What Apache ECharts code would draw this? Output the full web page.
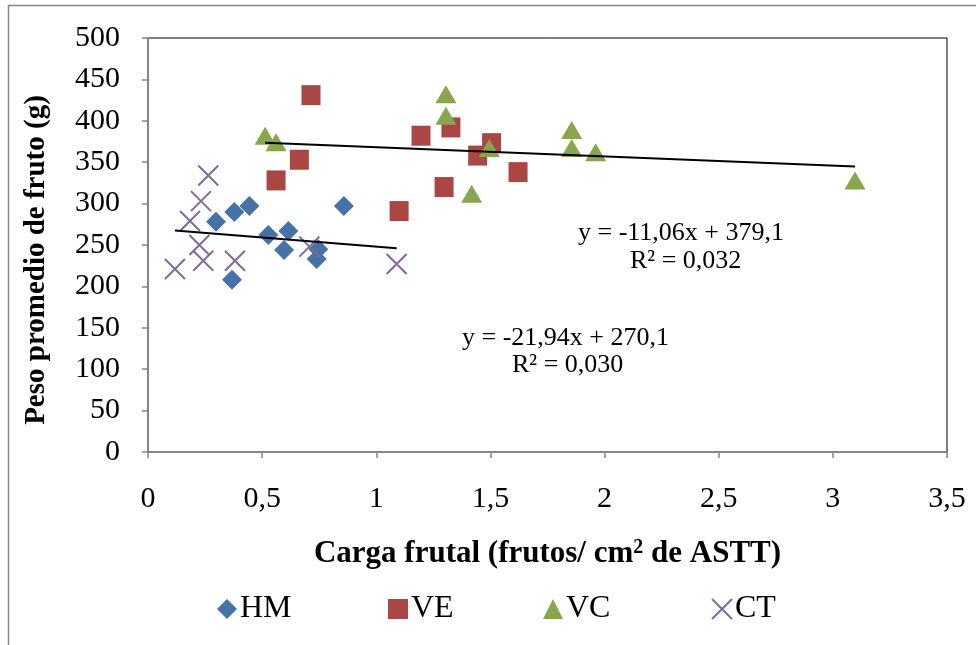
<!DOCTYPE html>
<html>
<head>
<meta charset="utf-8">
<script src="https://cdn.jsdelivr.net/npm/echarts@6/dist/echarts.min.js"></script>
<style>
  html, body { margin: 0; padding: 0; background: #ffffff; }
  #chart { width: 976px; height: 645px; }
</style>
</head>
<body>
<div id="chart"></div>
<script>
// Fruit load (x) against mean fruit weight (y) for four groups
const seriesNames = ['HM', 'VE', 'VC', 'CT'];

const hmX = [0.298, 0.378, 0.444, 0.368, 0.527, 0.615, 0.596, 0.858, 0.746, 0.739];
const hmY = [278, 290, 297, 208, 262, 267, 244, 297, 245, 233];

const veX = [0.561, 0.663, 0.714, 1.100, 1.196, 1.327, 1.505, 1.444, 1.297, 1.621];
const veY = [328, 353, 431, 291, 382, 392, 373, 358, 320, 338];

const vcX = [0.513, 0.561, 1.305, 1.305, 1.418, 1.495, 1.856, 1.856, 1.961, 3.097];
const vcY = [382, 374, 432, 406, 312, 367, 389, 367, 362, 328];

const ctX = [0.264, 0.232, 0.184, 0.225, 0.242, 0.118, 0.381, 0.707, 1.089];
const ctY = [334, 303, 279, 250, 231, 221, 231, 248, 227];

// Linear fits: [slope, intercept] and the x span each line covers
const fitHigh = [-11.06, 379.1];
const fitHighRange = [0.513, 3.097];
const fitHighR2 = '0,032';
const fitLow = [-21.94, 270.1];
const fitLowRange = [0.118, 1.089];
const fitLowR2 = '0,030';

const xTicks = [0, 0.5, 1, 1.5, 2, 2.5, 3, 3.5];
const yTicks = [0, 50, 100, 150, 200, 250, 300, 350, 400, 450, 500];

const colors = { HM: '#4572A7', VE: '#AA4643', VC: '#89A54E', CT: '#80699B' };
const serif = "'Liberation Serif', 'Times New Roman', serif";
const axisGray = '#868686';

const pairs = (xs, ys) => xs.map((x, i) => [x, ys[i]]);
const fitLine = (coef, range) => range.map(x => [x, coef[0] * x + coef[1]]);
const comma = v => String(v).replace('.', ',');
const eqText = (coef) =>
  'y = ' + comma(coef[0].toFixed(2)) + 'x + ' + comma(coef[1].toFixed(1));

const crossPath = 'path://M0,0L20,20M20,0L0,20';

// one legend block per series so each entry sits at its own spot
const legendLeft = [212, 383, 538, 706];
const legends = seriesNames.map((name, i) => ({
  data: [name],
  left: legendLeft[i], top: 588,
  itemWidth: 20, itemHeight: 20,
  textStyle: { fontFamily: serif, fontSize: 32, color: '#000', padding: [0, 0, 0, -2] }
}));

const chart = echarts.init(document.getElementById('chart'));

chart.setOption({
  animation: false,
  backgroundColor: '#ffffff',
  grid: {
    left: 148, top: 38, right: 29, bottom: 193,
    show: true, borderColor: '#000000', borderWidth: 1, backgroundColor: 'transparent'
  },
  xAxis: {
    type: 'value',
    min: xTicks[0], max: xTicks[xTicks.length - 1], interval: 0.5,
    splitLine: { show: false },
    axisLine: { show: true, lineStyle: { color: axisGray, width: 1.5 } },
    axisTick: { show: true, length: 6, inside: false, lineStyle: { color: axisGray, width: 1.5 } },
    axisLabel: { margin: 32, fontFamily: serif, fontSize: 30, color: '#000', formatter: v => comma(v) },
    name: '{t|Carga frutal (frutos/ cm}{s|2}{t| de ASTT)}',
    nameLocation: 'middle',
    nameGap: 86,
    nameTextStyle: {
      rich: {
        t: { fontFamily: serif, fontSize: 31, fontWeight: 'bold', color: '#000' },
        s: { fontFamily: serif, fontSize: 20, fontWeight: 'bold', color: '#000', verticalAlign: 'top', padding: [0, 0, 10, 0] }
      }
    }
  },
  yAxis: {
    type: 'value',
    min: yTicks[0], max: yTicks[yTicks.length - 1], interval: 50,
    splitLine: { show: false },
    axisLine: { show: true, lineStyle: { color: axisGray, width: 1.5 } },
    axisTick: { show: true, length: 6, inside: false, lineStyle: { color: axisGray, width: 1.5 } },
    axisLabel: { margin: 28, fontFamily: serif, fontSize: 30, color: '#000' }
  },
  legend: legends,
  graphic: [
    {
      type: 'rect', silent: true, z: -1,
      shape: { x: 8.5, y: 5.5, width: 1000, height: 700 },
      style: { fill: 'transparent', stroke: axisGray, lineWidth: 1.5 }
    },
    {
      type: 'text', x: 37, y: 260, rotation: Math.PI / 2,
      style: {
        text: 'Peso promedio de fruto (g)', font: 'bold 29px ' + serif, fill: '#000',
        align: 'center', verticalAlign: 'middle'
      }
    },
    {
      type: 'text', left: 578, top: 220,
      style: { text: eqText(fitHigh), font: '26px ' + serif, fill: '#000' }
    },
    {
      type: 'text', left: 630, top: 248,
      style: { text: 'R² = ' + fitHighR2, font: '26px ' + serif, fill: '#000' }
    },
    {
      type: 'text', left: 462, top: 325,
      style: { text: eqText(fitLow), font: '26px ' + serif, fill: '#000' }
    },
    {
      type: 'text', left: 512, top: 352,
      style: { text: 'R² = ' + fitLowR2, font: '26px ' + serif, fill: '#000' }
    }
  ],
  series: [
    {
      name: 'HM', type: 'scatter', data: pairs(hmX, hmY),
      symbol: 'diamond', symbolSize: [20, 20], z: 2,
      itemStyle: { color: colors.HM, opacity: 1 }
    },
    {
      name: 'VE', type: 'scatter', data: pairs(veX, veY),
      symbol: 'rect', symbolSize: [19, 20], z: 2,
      itemStyle: { color: colors.VE, opacity: 1 }
    },
    {
      name: 'VC', type: 'scatter', data: pairs(vcX, vcY),
      symbol: 'triangle', symbolSize: [21, 18], z: 2,
      itemStyle: { color: colors.VC, opacity: 1 }
    },
    {
      name: 'CT', type: 'scatter', data: pairs(ctX, ctY),
      symbol: crossPath, symbolSize: [20, 20], z: 2,
      itemStyle: { color: colors.CT, borderColor: colors.CT, borderWidth: 2, opacity: 1 }
    },
    {
      name: 'fitHigh', type: 'line', data: fitLine(fitHigh, fitHighRange),
      showSymbol: false, symbol: 'none', z: 5, silent: true,
      lineStyle: { color: '#000', width: 2 }
    },
    {
      name: 'fitLow', type: 'line', data: fitLine(fitLow, fitLowRange),
      showSymbol: false, symbol: 'none', z: 5, silent: true,
      lineStyle: { color: '#000', width: 2 }
    }
  ]
});
</script>
</body>
</html>
